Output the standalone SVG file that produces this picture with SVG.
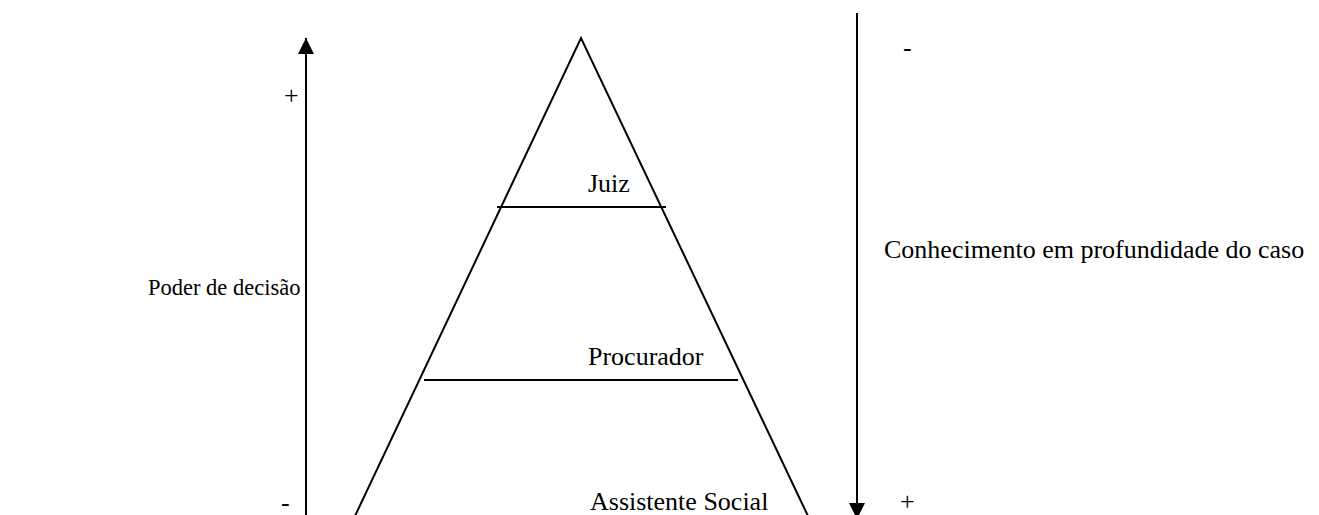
<svg xmlns="http://www.w3.org/2000/svg" width="1319" height="515" viewBox="0 0 1319 515">
<style>
.t{font-family:"Liberation Serif","Times New Roman",serif;font-size:26px;fill:#000}
.l{stroke:#000;stroke-width:2;fill:none}
</style>
<defs>
<marker id="ah" viewBox="0 0 16 16" refX="16" refY="8" markerWidth="16" markerHeight="16" markerUnits="userSpaceOnUse" orient="auto">
<path d="M0,0 L16,8 L0,16 Z" fill="#000"/>
</marker>
</defs>
<rect width="1319" height="515" fill="#fff"/>
<g id="connectors">
<line class="l" x1="306" y1="515" x2="306" y2="38" marker-end="url(#ah)"/>
<line class="l" x1="857" y1="13" x2="857" y2="519" marker-end="url(#ah)"/>
</g>
<g id="pyramid">
<path class="l" d="M355,516 L581,38 L808,516"/>
<line class="l" x1="497" y1="207" x2="666" y2="207"/>
<line class="l" x1="424" y1="380" x2="738" y2="380"/>
</g>
<g id="juiz"><text class="t" x="588" y="192">Juiz</text></g>
<g id="procurador"><text class="t" x="588" y="365">Procurador</text></g>
<g id="assistente"><text class="t" x="590" y="510">Assistente Social</text></g>
<g id="poder"><text class="t" x="148" y="295" style="font-size:22.5px">Poder de decisão</text></g>
<g id="conhecimento"><text class="t" x="884" y="258">Conhecimento em profundidade do caso</text></g>
<g id="signs">
<text class="t" x="284" y="104">+</text>
<text class="t" x="281" y="511">-</text>
<text class="t" x="903" y="56">-</text>
<text class="t" x="900" y="510">+</text>
</g>
</svg>
